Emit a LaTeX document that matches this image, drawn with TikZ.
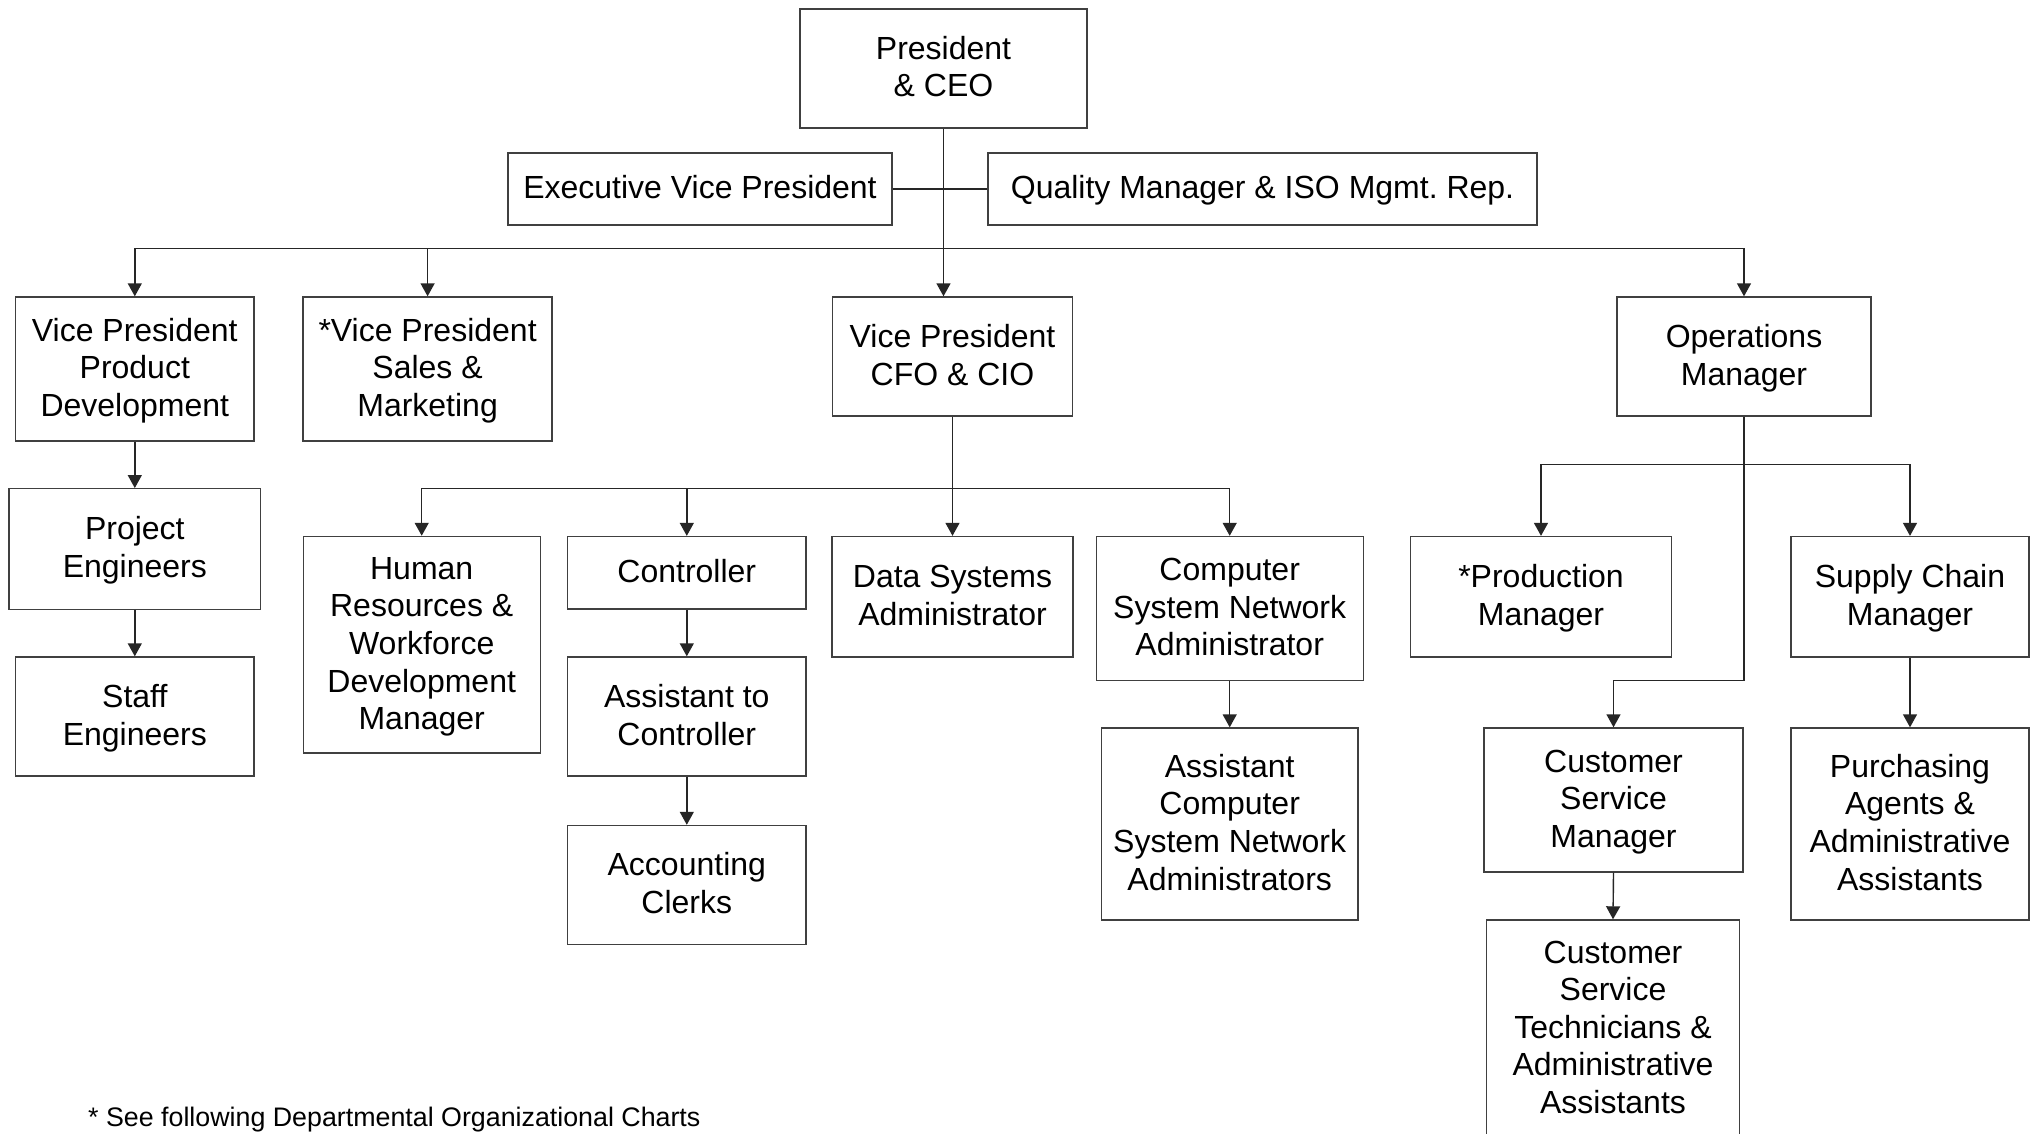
\documentclass[tikz,border=0pt]{standalone}
\usepackage{fontspec}
\setmainfont{Liberation Sans}
\usetikzlibrary{arrows.meta}
\frenchspacing
% invisible rules fixing the ascent of the first and descent of the last line
\newcommand\topstrt{\rule{0pt}{28.5pt}}
\newcommand\botstrt{\rule[-9.1pt]{0pt}{9.1pt}}

\begin{document}
\begin{tikzpicture}[x=1pt,y=-1pt,
  every node/.style={font=\fontsize{32}{37.6}\selectfont},
  box/.style={draw=black!75, line width=1.4pt, rectangle, align=center, inner sep=0pt},
  sz/.style 2 args={minimum width=#1pt, minimum height=#2pt},
  link/.style={draw=black!85, line width=1.4pt},
  conn/.style={link, -{Triangle[length=13pt,width=14pt]}},
  note/.style={font=\fontsize{26.8}{30}\selectfont, anchor=base west, inner sep=0pt}
]
\useasboundingbox (0,0) rectangle (2032,1134);
\fill[white] (0,0) rectangle (2032,1134);
\clip (0,0) rectangle (2032,1134);

% top level
\node[box, sz={287}{119}] (ceo) at (943.5,68.5) {\topstrt President\\\& CEO\botstrt};
\node[box, sz={384}{72}] (evp) at (700,189) {\topstrt Executive Vice President\botstrt};
\node[box, sz={549}{72}] (qm) at (1262.5,189) {\topstrt Quality Manager \& ISO Mgmt. Rep.\botstrt};

% vice presidents and operations
\node[box, sz={238.5}{144}] (vppd) at (134.8,369) {\topstrt Vice President\\Product\\Development\botstrt};
\node[box, sz={249}{144}] (vpsm) at (427.6,369) {\topstrt *Vice President\\Sales \&\\Marketing\botstrt};
\node[box, sz={240}{119}] (vpcfo) at (952.5,356.5) {\topstrt Vice President\\CFO \& CIO\botstrt};
\node[box, sz={254}{119}] (ops) at (1744,356.5) {\topstrt Operations\\Manager\botstrt};

% product development
\node[box, sz={251.5}{120.5}] (pe) at (134.8,549) {\topstrt Project\\Engineers\botstrt};
\node[box, sz={238.5}{119}] (se) at (134.8,716.5) {\topstrt Staff\\Engineers\botstrt};

% finance and information
\node[box, sz={237}{216.5}] (hr) at (421.7,644.7) {\topstrt Human\\Resources \&\\Workforce\\Development\\Manager\botstrt};
\node[box, sz={238.4}{72.5}] (ctrl) at (686.8,572.8) {\topstrt Controller\botstrt};
\node[box, sz={238.4}{119}] (actrl) at (686.8,716.5) {\topstrt Assistant to\\Controller\botstrt};
\node[box, sz={238.4}{119}] (clerks) at (686.8,885) {\topstrt Accounting\\Clerks\botstrt};
\node[box, sz={241}{120.5}] (dsa) at (952.5,596.8) {\topstrt Data Systems\\Administrator\botstrt};
\node[box, sz={267}{143.8}] (csna) at (1229.7,608.4) {\topstrt Computer\\System Network\\Administrator\botstrt};
\node[box, sz={256.5}{192}] (acsna) at (1229.7,824) {\topstrt Assistant\\Computer\\System Network\\Administrators\botstrt};

% operations
\node[box, sz={261}{120.5}] (prod) at (1541,596.8) {\topstrt *Production\\Manager\botstrt};
\node[box, sz={238}{120.5}] (scm) at (1910,596.8) {\topstrt Supply Chain\\Manager\botstrt};
\node[box, sz={259}{144}] (csm) at (1613.5,800) {\topstrt Customer\\Service\\Manager\botstrt};
\node[box, sz={253}{217}] (cst) at (1613,1028.5) {\topstrt Customer\\Service\\Technicians \&\\Administrative\\Assistants\botstrt};
\node[box, sz={238}{192}] (pur) at (1910,824) {\topstrt Purchasing\\Agents \&\\Administrative\\Assistants\botstrt};

% footnote
\node[note] (fn) at (88,1126) {* See following Departmental Organizational Charts};

% connectors from the top
\draw[link] (evp.east) -- (qm.west);
\path (ceo.south) ++(0,120) coordinate (b1);
\draw[conn] (ceo.south) -- (ceo.south |- vpcfo.north);
\draw[conn] (b1) -| (vppd.north);
\draw[conn] (b1) -| (vpsm.north);
\draw[conn] (b1) -| (ops.north);

% product development chain
\draw[conn] (vppd.south) -- (pe.north);
\draw[conn] (pe.south) -- (se.north);

% finance and information
\path (vpcfo.south) ++(0,72) coordinate (b2);
\draw[link] (vpcfo.south) -- (b2);
\draw[conn] (b2) -| (hr.north);
\draw[conn] (b2) -| (ctrl.north);
\draw[conn] (b2) -- (dsa.north);
\draw[conn] (b2) -| (csna.north);
\draw[conn] (ctrl.south) -- (actrl.north);
\draw[conn] (actrl.south) -- (clerks.north);
\draw[conn] (csna.south) -- (acsna.north);

% operations
\path (ops.south) ++(0,48) coordinate (b3);
\path (ops.south) ++(0,264) coordinate (b4);
\draw[link] (ops.south) -- (b4);
\draw[conn] (b3) -| (prod.north);
\draw[conn] (b3) -| (scm.north);
\draw[conn] (b4) -| (csm.north);
\draw[conn] (csm.south) -- (cst.north);
\draw[conn] (scm.south) -- (pur.north);
\end{tikzpicture}
\end{document}
